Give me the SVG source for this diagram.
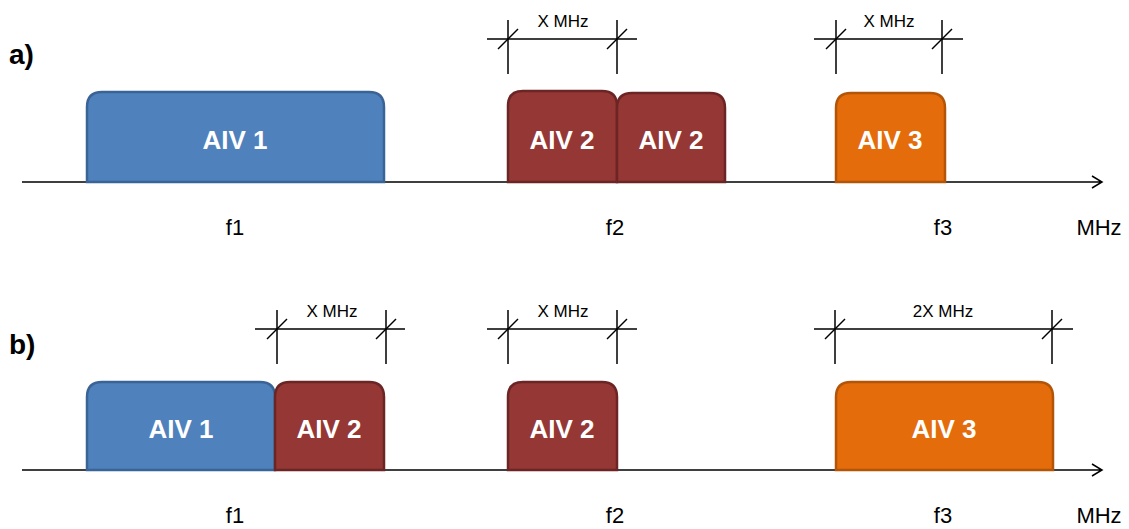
<svg xmlns="http://www.w3.org/2000/svg" width="1129" height="529" viewBox="0 0 1129 529">
<style>
.axis{stroke:#000;stroke-width:1.5;fill:none}
.dim{stroke:#000;stroke-width:1.5;fill:none}
.blue{fill:#4F81BD;stroke:#3A6396;stroke-width:2.5}
.red{fill:#953735;stroke:#6B2524;stroke-width:2.5}
.orange{fill:#E46C0A;stroke:#B35508;stroke-width:2.5}
.lbl{font-family:"Liberation Sans",Arial,sans-serif;font-size:26px;font-weight:bold;fill:#fff;text-anchor:middle}
.ax{font-family:"Liberation Sans",Arial,sans-serif;font-size:22px;fill:#000;text-anchor:middle}
.dt{font-family:"Liberation Sans",Arial,sans-serif;font-size:17px;fill:#000;text-anchor:middle}
.pl{font-family:"Liberation Sans",Arial,sans-serif;font-size:28px;font-weight:bold;fill:#000}
</style>
<defs>
<g id="tick"><path class="dim" d="M-10,10 L10,-10"/></g>
</defs>
<text class="pl" x="9" y="64">a)</text>
<text class="pl" x="9" y="354">b)</text>
<g id="connectors">
<path class="axis" d="M22,182 H1102 M1092,176 L1102,182 L1092,188"/>
<path class="axis" d="M22,470 H1102 M1092,464 L1102,470 L1092,476"/>
<g id="dim-a2"><path class="dim" d="M487,39 H637 M508,20 V74 M617,20 V74"/><use href="#tick" x="508" y="39"/><use href="#tick" x="617" y="39"/><text class="dt" x="563" y="27">X MHz</text></g>
<g id="dim-a3"><path class="dim" d="M814,39 H963 M836,20 V74 M942,20 V74"/><use href="#tick" x="836" y="39"/><use href="#tick" x="942" y="39"/><text class="dt" x="889" y="27">X MHz</text></g>
<g id="dim-b1"><path class="dim" d="M255,329 H405 M277,310 V364 M386,310 V364"/><use href="#tick" x="277" y="329"/><use href="#tick" x="386" y="329"/><text class="dt" x="332" y="317">X MHz</text></g>
<g id="dim-b2"><path class="dim" d="M487,329 H637 M508,310 V364 M617,310 V364"/><use href="#tick" x="508" y="329"/><use href="#tick" x="617" y="329"/><text class="dt" x="563" y="317">X MHz</text></g>
<g id="dim-b3"><path class="dim" d="M814,329 H1073 M835,310 V364 M1052,310 V364"/><use href="#tick" x="835" y="329"/><use href="#tick" x="1052" y="329"/><text class="dt" x="943" y="317">2X MHz</text></g>
</g>
<g id="a-aiv1"><path class="blue" d="M87,182 V107 Q87,92 102,92 H369 Q384,92 384,107 V182 Z"/><text class="lbl" x="235" y="149">AIV 1</text></g>
<g id="a-aiv2a"><path class="red" d="M508,182 V106 Q508,91 523,91 H602 Q617,91 617,106 V182 Z"/><text class="lbl" x="562" y="149">AIV 2</text></g>
<g id="a-aiv2b"><path class="red" d="M617,182 V108 Q617,93 632,93 H710 Q725,93 725,108 V182 Z"/><text class="lbl" x="671" y="149">AIV 2</text></g>
<g id="a-aiv3"><path class="orange" d="M836,182 V108 Q836,93 851,93 H930 Q945,93 945,108 V182 Z"/><text class="lbl" x="890" y="149">AIV 3</text></g>
<text class="ax" x="235" y="235">f1</text>
<text class="ax" x="615" y="235">f2</text>
<text class="ax" x="943" y="235">f3</text>
<text class="ax" x="1099" y="235">MHz</text>
<g id="b-aiv1"><path class="blue" d="M87,470 V397 Q87,382 102,382 H260 Q275,382 275,397 V470 Z"/><text class="lbl" x="181" y="438">AIV 1</text></g>
<g id="b-aiv2a"><path class="red" d="M275,470 V397 Q275,382 290,382 H369 Q384,382 384,397 V470 Z"/><text class="lbl" x="329" y="438">AIV 2</text></g>
<g id="b-aiv2b"><path class="red" d="M508,470 V397 Q508,382 523,382 H602 Q617,382 617,397 V470 Z"/><text class="lbl" x="562" y="438">AIV 2</text></g>
<g id="b-aiv3"><path class="orange" d="M836,470 V397 Q836,382 851,382 H1038 Q1053,382 1053,397 V470 Z"/><text class="lbl" x="944" y="438">AIV 3</text></g>
<text class="ax" x="235" y="523">f1</text>
<text class="ax" x="615" y="523">f2</text>
<text class="ax" x="943" y="523">f3</text>
<text class="ax" x="1099" y="523">MHz</text>
</svg>
